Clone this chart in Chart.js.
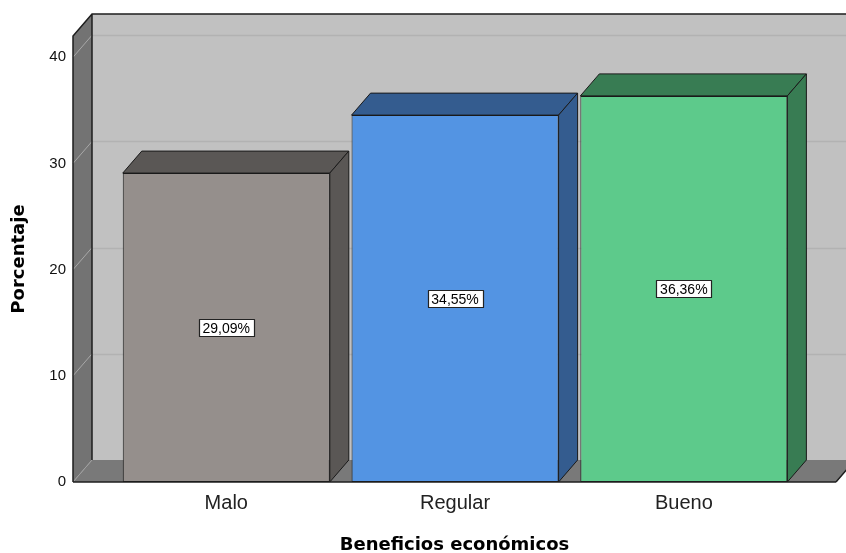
<!DOCTYPE html>
<html>
<head>
<meta charset="utf-8">
<script src="https://cdn.jsdelivr.net/npm/chart.js@4"></script>
<style>
  html, body { margin: 0; padding: 0; background: #fff; }
  #wrap { width: 846px; height: 553px; }
</style>
</head>
<body>
<div id="wrap"><canvas id="beneficiosChart"></canvas></div>
<script>
const categories = ['Malo', 'Regular', 'Bueno'];
const values = [29.09, 34.55, 36.36];
const valueLabels = ['29,09%', '34,55%', '36,36%'];
const yTicks = [0, 10, 20, 30, 40];

const frontColors = ['#958f8c', '#5394e3', '#5dca8b'];
const darkColors = ['#5a5755', '#345c8f', '#387c53'];

// depth of the 3d look
const DX = 19, DY = 22;

const poly = (ctx, pts, fill, stroke, lw) => {
    ctx.beginPath();
    ctx.moveTo(pts[0][0], pts[0][1]);
    for (let i = 1; i < pts.length; i++) ctx.lineTo(pts[i][0], pts[i][1]);
    ctx.closePath();
    if (fill) { ctx.fillStyle = fill; ctx.fill(); }
    if (stroke) { ctx.strokeStyle = stroke; ctx.lineWidth = lw || 1; ctx.stroke(); }
};

const box3d = {
    id: 'box3d',
    beforeDatasetsDraw(chart) {
        const ctx = chart.ctx;
        const { left, right, top, bottom } = chart.chartArea;
        const W = chart.width;
        const y = chart.scales.y;
        ctx.save();
        // back wall
        ctx.fillStyle = '#c1c1c1';
        ctx.fillRect(left + DX, top - DY, W - left - DX, bottom - top);
        // gridlines on back wall + left wall
        yTicks.forEach(t => {
            if (t === 0) return;
            const py = Math.round(y.getPixelForValue(t)) + 0.5;
            ctx.strokeStyle = '#b2b2b2';
            ctx.lineWidth = 1.5;
            ctx.beginPath();
            ctx.moveTo(left + DX, py - DY);
            ctx.lineTo(W, py - DY);
            ctx.stroke();
        });
        // left wall
        poly(ctx, [[left, top], [left + DX, top - DY], [left + DX, bottom - DY], [left, bottom]], '#737373');
        yTicks.forEach(t => {
            if (t === 0) return;
            const py = y.getPixelForValue(t);
            ctx.strokeStyle = '#a8a8a8';
            ctx.lineWidth = 1;
            ctx.beginPath();
            ctx.moveTo(left, py);
            ctx.lineTo(left + DX, py - DY);
            ctx.stroke();
        });
        // floor
        poly(ctx, [[left, bottom], [left + DX, bottom - DY], [right + DX, bottom - DY], [right, bottom]], '#797979');
        ctx.strokeStyle = '#a0a0a0';
        ctx.lineWidth = 1;
        ctx.beginPath();
        ctx.moveTo(left, bottom);
        ctx.lineTo(left + DX, bottom - DY);
        ctx.stroke();
        // frame edges
        ctx.strokeStyle = '#1e1e1e';
        ctx.lineWidth = 1.5;
        ctx.beginPath();
        ctx.moveTo(left, bottom);
        ctx.lineTo(left, top);
        ctx.lineTo(left + DX, top - DY);
        ctx.lineTo(W, top - DY);
        ctx.moveTo(left + DX, top - DY);
        ctx.lineTo(left + DX, bottom - DY);
        ctx.moveTo(right, bottom);
        ctx.lineTo(right + DX, bottom - DY);
        ctx.stroke();
        ctx.restore();
    },
    afterDatasetsDraw(chart) {
        const ctx = chart.ctx;
        const { left, right, bottom } = chart.chartArea;
        const meta = chart.getDatasetMeta(0);
        ctx.save();
        ctx.lineJoin = 'round';
        meta.data.forEach((bar, i) => {
            const x0 = bar.x - bar.width / 2;
            const x1 = bar.x + bar.width / 2;
            const yt = bar.y, yb = bar.base;
            poly(ctx, [[x0, yt], [x0 + DX, yt - DY], [x1 + DX, yt - DY], [x1, yt]], darkColors[i], '#1a1a1a', 1);
            poly(ctx, [[x1, yt], [x1 + DX, yt - DY], [x1 + DX, yb - DY], [x1, yb]], darkColors[i], '#1a1a1a', 1);
        });
        // front baseline
        ctx.strokeStyle = '#1e1e1e';
        ctx.lineWidth = 1.5;
        ctx.beginPath();
        ctx.moveTo(left, bottom);
        ctx.lineTo(right, bottom);
        ctx.stroke();
        // value boxes
        ctx.font = '14px "Liberation Sans", Arial, sans-serif';
        ctx.textAlign = 'center';
        ctx.textBaseline = 'middle';
        meta.data.forEach((bar, i) => {
            const cy = Math.round((bar.y + bar.base) / 2);
            const tw = ctx.measureText(valueLabels[i]).width;
            const bw = Math.round(tw + 8), bh = 17;
            const bx = Math.round(bar.x - bw / 2) + 0.5, by = cy - 8.5;
            ctx.fillStyle = '#ffffff';
            ctx.fillRect(bx, by, bw, bh);
            ctx.strokeStyle = '#222';
            ctx.lineWidth = 1.2;
            ctx.strokeRect(bx, by, bw, bh);
            ctx.fillStyle = '#000000';
            ctx.fillText(valueLabels[i], bar.x, cy + 1);
        });
        ctx.restore();
    }
};

const ctx = document.getElementById('beneficiosChart').getContext('2d');
const myChart = new Chart(ctx, {
    type: 'bar',
    data: {
        datasets: [{
            label: 'Porcentaje',
            data: categories.map((c, i) => ({ x: i, y: values[i] })),
            backgroundColor: frontColors,
            borderColor: '#1a1a1a',
            borderWidth: 1,
            borderSkipped: false,
            barPercentage: 0.905,
            categoryPercentage: 1
        }]
    },
    options: {
        responsive: true,
        maintainAspectRatio: false,
        animation: false,
        layout: { padding: { top: 36, right: 10, left: 0, bottom: 0 } },
        plugins: {
            legend: { display: false },
            tooltip: { enabled: false }
        },
        scales: {
            x: {
                type: 'linear',
                offset: false,
                min: -0.67,
                max: 2.665,
                afterBuildTicks: (scale) => { scale.ticks = categories.map((c, i) => ({ value: i })); },
                afterFit: (scale) => { scale.height = 71; },
                grid: { display: false, drawTicks: false },
                border: { display: false },
                ticks: {
                    padding: 9,
                    color: '#222',
                    font: { family: '"Liberation Sans", Arial, sans-serif', size: 20 },
                    callback: (v) => categories[v]
                },
                title: {
                    display: true,
                    text: 'Beneficios económicos',
                    color: '#000',
                    padding: { top: 0, bottom: 0 },
                    font: { family: '"DejaVu Sans", sans-serif', size: 18, weight: 'bold', lineHeight: 0.9 }
                }
            },
            y: {
                min: 0,
                max: 42,
                afterBuildTicks: (scale) => { scale.ticks = yTicks.map(v => ({ value: v })); },
                afterFit: (scale) => { scale.width = 73; },
                grid: { display: false, drawTicks: false },
                border: { display: false },
                ticks: {
                    padding: 7,
                    color: '#111',
                    font: { family: '"Liberation Sans", Arial, sans-serif', size: 15 }
                },
                title: {
                    display: true,
                    text: 'Porcentaje',
                    color: '#000',
                    padding: { top: 9, bottom: 0 },
                    font: { family: '"DejaVu Sans", sans-serif', size: 18, weight: 'bold' }
                }
            }
        }
    },
    plugins: [box3d]
});
</script>
</body>
</html>
